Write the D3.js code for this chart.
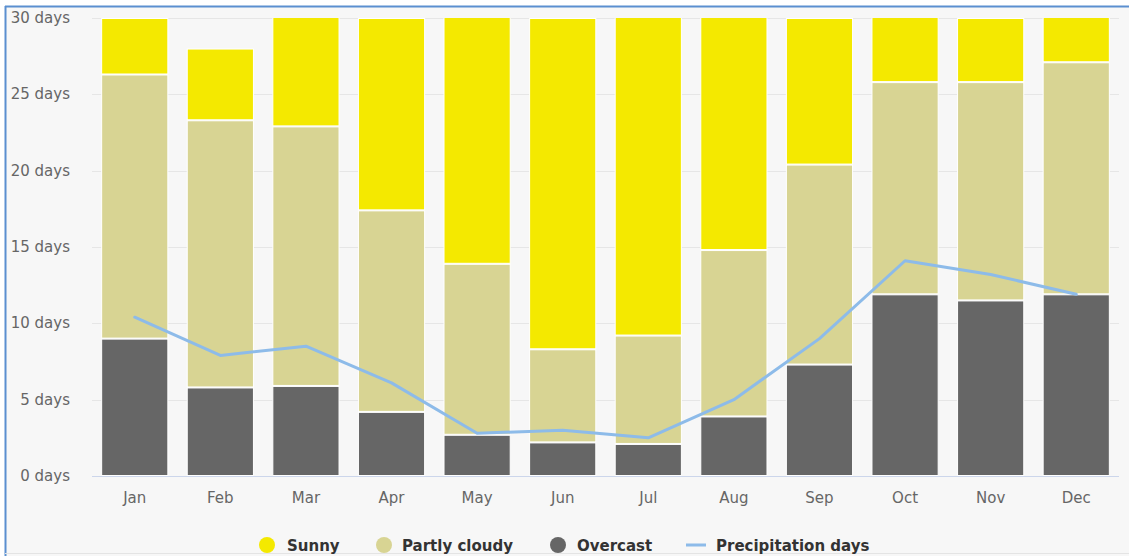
<!DOCTYPE html>
<html>
<head>
<meta charset="utf-8">
<script src="https://cdn.jsdelivr.net/npm/d3@7"></script>
<style>
  html, body { margin: 0; padding: 0; background: #ffffff; }
  svg { display: block; font-family: "DejaVu Sans", Verdana, sans-serif; }
</style>
</head>
<body>
<svg id="chart" width="1129" height="556"></svg>
<script>
// Monthly cloud cover (days) and precipitation days
const months = ["Jan","Feb","Mar","Apr","May","Jun","Jul","Aug","Sep","Oct","Nov","Dec"];
const overcast = [9.0, 5.8, 5.9, 4.2, 2.7, 2.2, 2.1, 3.9, 7.3, 11.9, 11.5, 11.9];
const partlyCloudy = [17.3, 17.5, 17.0, 13.2, 11.2, 6.1, 7.1, 10.9, 13.1, 13.9, 14.3, 15.2];
const sunny = [3.7, 4.7, 8.1, 12.6, 17.1, 21.7, 21.8, 16.2, 9.6, 5.2, 4.2, 3.9];
const precipitation = [10.4, 7.9, 8.5, 6.1, 2.8, 3.0, 2.5, 5.0, 9.0, 14.1, 13.2, 11.9];
const yTicks = [0, 5, 10, 15, 20, 25, 30];

const seriesDefs = [
  { name: "Overcast", values: overcast, color: "#666666" },
  { name: "Partly cloudy", values: partlyCloudy, color: "#d8d493" },
  { name: "Sunny", values: sunny, color: "#f4e900" }
];
const lineColor = "#8dbbe9";

const svg = d3.select("#chart");
const W = 1129, H = 556;
const plot = { left: 92, right: 1119, top: 18, bottom: 476 };

// panel background and frame
svg.append("rect").attr("x", 5).attr("y", 6).attr("width", W - 5).attr("height", H - 6).attr("fill", "#f7f7f7");
svg.append("line").attr("x1", 5).attr("x2", W).attr("y1", 6.5).attr("y2", 6.5).attr("stroke", "#5b8fd0").attr("stroke-width", 2);
svg.append("line").attr("x1", 5.5).attr("x2", 5.5).attr("y1", 6).attr("y2", H).attr("stroke", "#5b8fd0").attr("stroke-width", 2);
svg.append("line").attr("x1", 5).attr("x2", W).attr("y1", H - 2.5).attr("y2", H - 2.5).attr("stroke", "#e4e4e4").attr("stroke-width", 1);

const x = d3.scaleBand().domain(months).range([plot.left, plot.right]).paddingInner(0.215).paddingOuter(0.107);
const y = d3.scaleLinear().domain([0, 30]).range([plot.bottom, plot.top]);

// gridlines
svg.append("g").selectAll("line").data(yTicks.filter(d => d > 0)).join("line")
  .attr("x1", plot.left).attr("x2", plot.right)
  .attr("y1", d => Math.round(y(d)) + 0.5).attr("y2", d => Math.round(y(d)) + 0.5)
  .attr("stroke", "#e6e6e6").attr("stroke-width", 1);

// y axis labels
svg.append("g").selectAll("text").data(yTicks).join("text")
  .attr("x", 70).attr("y", d => y(d) + 5)
  .attr("text-anchor", "end").attr("fill", "#666666").attr("font-size", 15)
  .text(d => d + " days");

// stacked bars, clipped at the top of the plot
svg.append("defs").append("clipPath").attr("id", "plotClip")
  .append("rect").attr("x", plot.left).attr("y", plot.top).attr("width", plot.right - plot.left).attr("height", plot.bottom - plot.top);

const table = months.map((m, i) => ({ month: m, Overcast: overcast[i], "Partly cloudy": partlyCloudy[i], Sunny: sunny[i] }));
const stacked = d3.stack().keys(seriesDefs.map(s => s.name))(table);

const barsG = svg.append("g").attr("clip-path", "url(#plotClip)");
stacked.forEach((layer, li) => {
  barsG.append("g").selectAll("rect").data(layer).join("rect")
    .attr("x", d => x(d.data.month) + 0.5)
    .attr("width", x.bandwidth() - 1)
    .attr("y", d => y(d[1]) + 0.5)
    .attr("height", d => Math.max(0, y(d[0]) - y(d[1]) - 1))
    .attr("fill", seriesDefs[li].color)
    .attr("stroke", "#ffffff").attr("stroke-width", 1);
});

// x axis line and labels
svg.append("line").attr("x1", plot.left).attr("x2", plot.right)
  .attr("y1", plot.bottom + 0.5).attr("y2", plot.bottom + 0.5)
  .attr("stroke", "#ccd6eb").attr("stroke-width", 1);
svg.append("g").selectAll("text").data(months).join("text")
  .attr("x", d => x(d) + x.bandwidth() / 2).attr("y", 503)
  .attr("text-anchor", "middle").attr("fill", "#666666").attr("font-size", 15)
  .text(d => d);

// precipitation line
const line = d3.line().x((d, i) => x(months[i]) + x.bandwidth() / 2).y(d => y(d));
svg.append("path").datum(precipitation).attr("d", line)
  .attr("fill", "none").attr("stroke", lineColor).attr("stroke-width", 3)
  .attr("stroke-linejoin", "round").attr("stroke-linecap", "round");

// legend
const legendItems = [
  { name: "Sunny", color: "#f4e900", type: "dot", sx: 267, tx: 287 },
  { name: "Partly cloudy", color: "#d8d493", type: "dot", sx: 384, tx: 402 },
  { name: "Overcast", color: "#666666", type: "dot", sx: 558, tx: 577 },
  { name: "Precipitation days", color: lineColor, type: "line", sx: 696, tx: 716 }
];
const lg = svg.append("g");
legendItems.forEach(it => {
  if (it.type === "dot") {
    lg.append("circle").attr("cx", it.sx).attr("cy", 545).attr("r", 8).attr("fill", it.color);
  } else {
    lg.append("line").attr("x1", it.sx - 10).attr("x2", it.sx + 10).attr("y1", 545).attr("y2", 545)
      .attr("stroke", it.color).attr("stroke-width", 3);
  }
  lg.append("text").attr("x", it.tx).attr("y", 551)
    .attr("fill", "#333333").attr("font-size", 15).attr("font-weight", "bold")
    .text(it.name);
});
</script>
</body>
</html>
